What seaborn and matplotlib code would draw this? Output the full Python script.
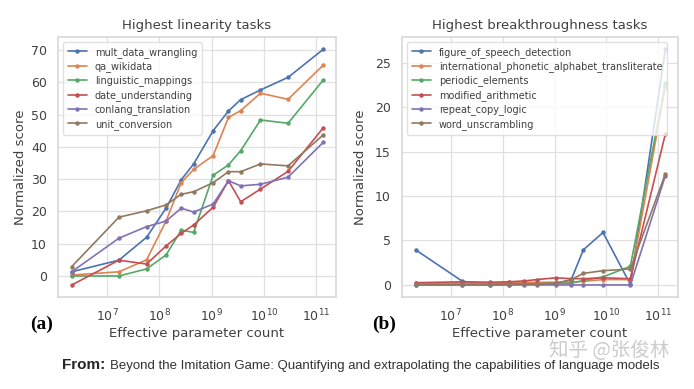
import numpy as np
import pandas as pd
import matplotlib
matplotlib.use("Agg")
import matplotlib.pyplot as plt
import seaborn as sns
from matplotlib.ticker import NullLocator

# ---------------- data ----------------
params = [2.1e6, 1.68e7, 5.7e7, 1.34e8, 2.62e8, 4.53e8, 1.07e9, 2.1e9, 3.6e9, 8.6e9, 2.9e10, 1.37e11]

lin_tasks = ["mult_data_wrangling", "qa_wikidata", "linguistic_mappings",
             "date_understanding", "conlang_translation", "unit_conversion"]
mult_data_wrangling = [1.3, 4.9, 12.0, 21.0, 29.8, 34.7, 45.0, 51.1, 54.6, 57.6, 61.5, 70.2]
qa_wikidata = [0.3, 1.3, 5.0, 17.0, 28.9, 33.0, 37.3, 49.1, 51.2, 56.6, 54.7, 65.3]
linguistic_mappings = [0.0, 0.0, 2.2, 6.5, 14.2, 13.5, 31.2, 34.4, 38.8, 48.3, 47.3, 60.7]
date_understanding = [-2.8, 4.9, 3.7, 9.3, 13.2, 15.8, 21.3, 29.5, 23.0, 26.9, 32.4, 45.9]
conlang_translation = [1.3, 11.7, 15.3, 17.0, 21.0, 19.8, 22.3, 29.5, 27.9, 28.4, 30.6, 41.4]
unit_conversion = [2.9, 18.2, 20.2, 22.0, 25.3, 26.1, 28.9, 32.3, 32.3, 34.7, 34.1, 43.7]
lin_values = [mult_data_wrangling, qa_wikidata, linguistic_mappings,
              date_understanding, conlang_translation, unit_conversion]

brk_tasks = ["figure_of_speech_detection", "international_phonetic_alphabet_transliterate",
             "periodic_elements", "modified_arithmetic", "repeat_copy_logic", "word_unscrambling"]
figure_of_speech_detection = [3.95, 0.4, 0.1, 0.1, 0.1, 0.1, 0.1, 0.6, 3.95, 5.9, 0.05, 26.5]
ipa_transliterate = [0.2, 0.2, 0.2, 0.3, 0.3, 0.3, 0.3, 0.3, 0.4, 0.6, 0.6, 22.3]
periodic_elements = [0.0, 0.0, 0.0, 0.0, 0.1, 0.1, 0.2, 0.2, 0.5, 0.9, 2.1, 22.7]
modified_arithmetic = [0.25, 0.35, 0.3, 0.35, 0.45, 0.6, 0.8, 0.7, 0.7, 0.8, 0.7, 17.0]
repeat_copy_logic = [0.0, 0.0, 0.0, 0.0, 0.0, 0.0, 0.0, 0.0, 0.0, 0.0, 0.0, 12.3]
word_unscrambling = [0.05, 0.05, 0.05, 0.1, 0.1, 0.1, 0.2, 0.6, 1.3, 1.6, 1.8, 12.5]
brk_values = [figure_of_speech_detection, ipa_transliterate, periodic_elements,
              modified_arithmetic, repeat_copy_logic, word_unscrambling]

xticks = [1e7, 1e8, 1e9, 1e10, 1e11]


def long_df(tasks, values):
    rows = []
    for t, vals in zip(tasks, values):
        for p, v in zip(params, vals):
            rows.append({"params": p, "score": v, "task": t})
    return pd.DataFrame(rows)


sns.set_theme(style="whitegrid", palette="deep")
plt.rcParams["font.family"] = ["DejaVu Sans"]

W, H = 694, 389
fig = plt.figure(figsize=(W / 100, H / 100), dpi=100)


def add_ax(x0, y0, x1, y1):
    return fig.add_axes([x0 / W, 1 - y1 / H, (x1 - x0) / W, (y1 - y0) / H])


ax1 = add_ax(58, 37, 336, 297)
ax2 = add_ax(402, 37, 678, 297)

for ax, tasks, values, title, ylim, yt in [
    (ax1, lin_tasks, lin_values, "Highest linearity tasks", (-6.5, 74.0), [0, 10, 20, 30, 40, 50, 60, 70]),
    (ax2, brk_tasks, brk_values, "Highest breakthroughness tasks", (-1.36, 27.9), [0, 5, 10, 15, 20, 25]),
]:
    df = long_df(tasks, values)
    sns.lineplot(data=df, x="params", y="score", hue="task", hue_order=tasks,
                 marker="o", markersize=3.2, markeredgewidth=0, linewidth=1.2,
                 ax=ax, legend=True)
    ax.set_xscale("log")
    ax.set_xlim(10 ** 6.06, 10 ** 11.38)
    ax.set_ylim(*ylim)
    ax.set_xticks(xticks)
    ax.xaxis.set_minor_locator(NullLocator())
    ax.set_yticks(yt)
    ax.tick_params(labelsize=9, colors=".25", pad=2)
    ax.set_title(title, fontsize=9.5, color=".25", pad=6)
    ax.set_xlabel("Effective parameter count", fontsize=9.5, color=".25", labelpad=2)
    ax.set_ylabel("")
    for s in ax.spines.values():
        s.set_color(".85")
    ax.grid(color=".88", linewidth=0.9)
    leg = ax.legend(loc="upper left", fontsize=7.0, labelspacing=0.36,
                    handlelength=2.0, borderpad=0.5, frameon=True)
    leg.get_frame().set_edgecolor(".85")
    for txt in leg.get_texts():
        txt.set_color(".25")

ax1.set_ylabel("Normalized score", fontsize=9.5, color=".25", labelpad=3)
ax2.set_ylabel("Normalized score", fontsize=9.5, color=".25", labelpad=6)

fig.text(30 / W, 1 - 324 / H, "(a)", fontsize=14, fontweight="bold",
         family="Liberation Serif", ha="left", va="center", color="black")
fig.text(372 / W, 1 - 324 / H, "(b)", fontsize=14, fontweight="bold",
         family="Liberation Serif", ha="left", va="center", color="black")

fig.text(62 / W, 1 - 365 / H, "From:", fontsize=11, fontweight="bold",
         family="Liberation Sans", ha="left", va="center", color=".15")
fig.text(110 / W, 1 - 366 / H,
         "Beyond the Imitation Game: Quantifying and extrapolating the capabilities of language models",
         fontsize=9.5, family="Liberation Sans", ha="left", va="center", color=".2")
fig.text(549 / W, 1 - 350 / H, "知乎 @张俊林", fontsize=14,
         family=["Noto Sans CJK SC", "DejaVu Sans"], ha="left", va="center", color=".8")

fig.savefig("out.png", dpi=100)
